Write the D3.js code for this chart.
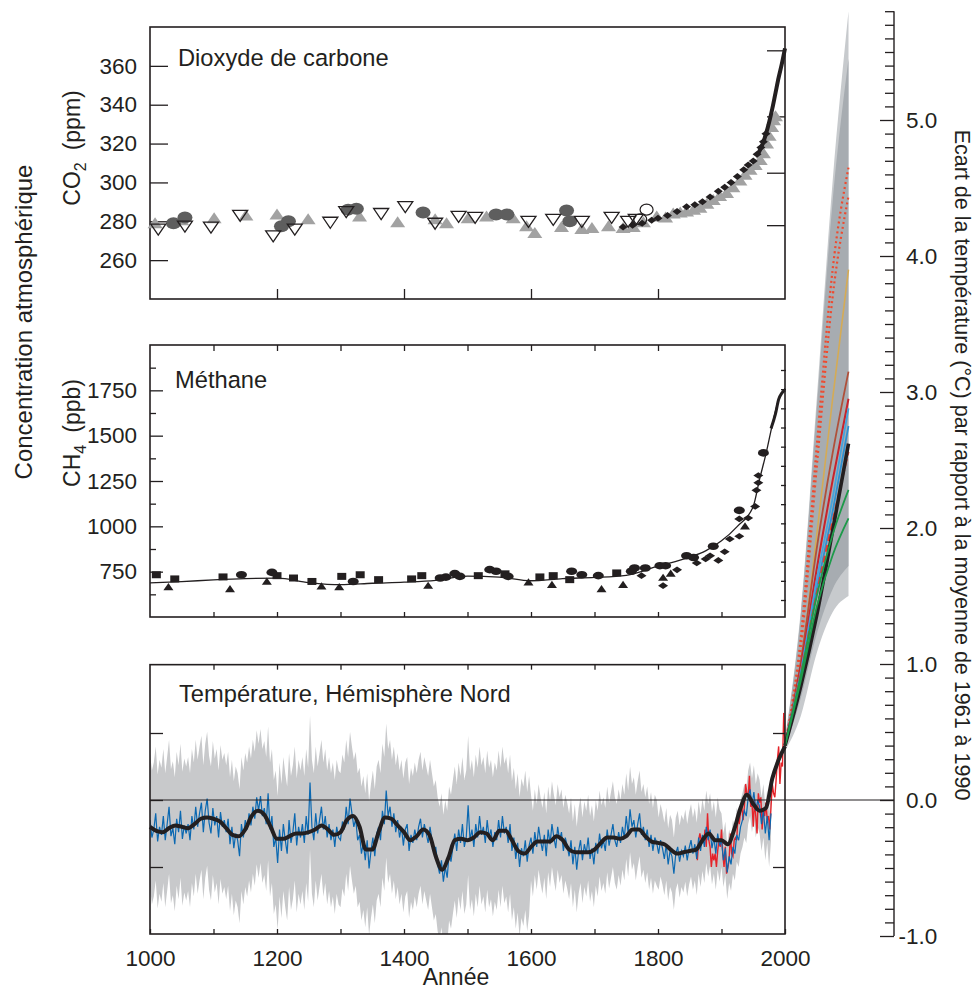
<!DOCTYPE html>
<html>
<head>
<meta charset="utf-8">
<script src="https://cdn.jsdelivr.net/npm/d3@7"></script>
<style>
  body { margin: 0; background: #fff; }
  svg text { font-family: "Liberation Sans", Arial, Helvetica, sans-serif; fill: #231f20; }
</style>
</head>
<body>
<svg id="chart" width="978" height="989"></svg>
<script>
// ---------- CO2 (ppm) ----------
const co2LawDome = [[1037,279],[1055,282],[1207,277.5],[1218,280],[1312,286],[1325,286.5],[1430,284.5],
  [1545,283.5],[1562,283.5],[1656,285.5],[1661,280]];
const co2Siple = [[1008,279],[1050,280.5],[1101,281.5],[1151,283],[1200,283.5],[1249,281],[1330,282.5],
  [1390,279.5],[1449,281],[1467,279],[1501,281.5],[1530,282.5],[1572,281.5],[1593,277.5],[1606,274],
  [1648,277],[1680,276],[1696,276.5],[1722,277.5],[1745,276.5],[1761,277],[1777,279.5],[1798,282.5],
  [1812,282],[1824,284],[1835,284.5],[1845,285],[1856,286],[1866,287],[1877,289],[1887,291],[1897,293],
  [1908,294.5],[1918,297.5],[1929,301],[1937,304],[1945,306.5],[1953,309],[1961,311.5],[1966,315],
  [1971,320],[1975,324],[1979,328.5],[1982,332],[1985,334]];
const co2Taylor = [[1013,276],[1055,277.5],[1096,277],[1142,283],[1194,272.5],[1228,276],[1284,279.5],
  [1309,285],[1364,284],[1402,287.5],[1449,279],[1486,282.5],[1512,282],[1596,280],[1635,281],
  [1680,280],[1727,282],[1753,280],[1765,281]];
const co2Firn = [[1745,277],[1760,278],[1775,279],[1790,280.5],[1800,281.5],[1815,283],[1830,285],
  [1845,287.5],[1858,288.5],[1870,290],[1882,292.5],[1895,295.5],[1905,297.5],[1915,300],[1925,303],
  [1935,306.5],[1942,309],[1950,311],[1956,314.5],[1962,318],[1966,321],[1970,325]];
const co2Circles = [[1782,286],[1772,281]];
const co2MaunaYears = [1958, 1965, 1970, 1975, 1980, 1985, 1990, 1995, 2000];
const co2MaunaVals  = [315, 320, 325, 331, 338, 346, 354, 361, 369];
const co2Ticks = [260, 280, 300, 320, 340, 360];
const co2RightTicks = [278, 305, 334, 368];

// ---------- CH4 (ppb) ----------
const ch4Squares = [[1010,733],[1039,710],[1115,721],[1200,728],[1226,715],[1255,696],[1302,724],[1331,733],
  [1360,706],[1412,710],[1428,728],[1517,728],[1559,738],[1614,721],[1635,728],[1661,706],[1735,743]];
const ch4Circles = [[1144,733],[1192,746],[1320,696],[1457,715],[1466,720],[1480,739],[1488,724],[1535,761],
  [1545,752],[1564,724],[1664,752],[1680,733],[1706,728],[1758,752],[1763,770],[1780,770],[1803,783],
  [1812,783],[1845,838],[1856,828],[1887,890],[1928,1088],[1966,1405]];
const ch4Triangles = [[1029,665],[1126,654],[1184,696],[1270,669],[1298,665],[1438,673],[1596,691],
  [1633,678],[1711,654],[1745,678],[1808,717],[1820,740],[1937,1000]];
const ch4Diamonds = [[1774,728],[1808,673],[1830,760],[1861,798],[1875,820],[1882,838],[1895,812],
  [1905,860],[1913,930],[1928,945],[1928,1041],[1942,1046],[1953,1110],[1955,1199],[1958,1240],[1958,1280]];
const ch4LineYears = [1000,1050,1100,1150,1200,1250,1300,1350,1400,1450,1500,1550,1600,1650,1700,1750,
  1800,1850,1875,1900,1925,1950,1960,1970,1980,1990,2000];
const ch4LineVals = [688,695,705,712,714,690,678,686,692,702,725,720,700,712,718,730,
  780,830,865,920,1000,1110,1260,1400,1560,1700,1760];
const ch4RecentYears = [1978, 1985, 1990, 1995, 2000];
const ch4RecentVals = [1540, 1620, 1700, 1735, 1752];
const ch4Ticks = [750, 1000, 1250, 1500, 1750];
const ch4MinorTicks = [625, 875, 1125, 1375, 1625, 1875];

// ---------- Northern Hemisphere temperature (°C, vs 1961-1990) ----------
const reconStart = 1000, reconStep = 3;
const reconVals = [
  -0.15,-0.28,-0.22,-0.10,-0.31,-0.20,-0.26,-0.12,-0.30,-0.18,-0.05,-0.27,-0.21,-0.33,-0.14,-0.24,-0.08,-0.29,-0.19,-0.25,
  -0.18,-0.30,-0.12,-0.22,-0.05,-0.20,-0.10,-0.02,-0.24,-0.08,0.01,-0.17,-0.25,-0.06,-0.19,-0.12,-0.28,-0.09,-0.20,-0.15,
  -0.24,-0.14,-0.33,-0.20,-0.36,-0.25,-0.30,-0.42,-0.18,-0.28,-0.15,-0.22,-0.10,-0.19,-0.05,-0.14,0.02,-0.08,0.03,-0.12,
  -0.06,-0.18,0.05,-0.22,-0.12,-0.35,-0.28,-0.47,-0.22,-0.38,-0.18,-0.30,-0.40,-0.15,-0.32,-0.24,-0.10,-0.34,-0.20,-0.28,
  -0.18,-0.32,-0.12,-0.26,0.13,-0.20,-0.30,-0.10,-0.25,-0.15,-0.05,-0.22,-0.12,-0.28,-0.18,-0.30,-0.22,-0.35,-0.20,-0.28,
  -0.30,-0.16,-0.22,-0.05,-0.18,0.01,-0.10,-0.20,-0.14,-0.30,-0.26,-0.40,-0.32,-0.45,-0.30,-0.51,-0.38,-0.28,-0.42,-0.25,
  -0.20,-0.30,-0.08,-0.18,0.07,-0.12,-0.05,-0.20,-0.10,-0.24,-0.15,-0.28,-0.20,-0.34,-0.22,-0.18,-0.38,-0.26,-0.32,-0.22,
  -0.30,-0.20,-0.14,-0.28,-0.18,-0.25,-0.32,-0.20,-0.30,-0.40,-0.35,-0.48,-0.55,-0.45,-0.61,-0.50,-0.58,-0.40,-0.46,-0.35,
  -0.25,-0.38,-0.22,-0.32,-0.18,-0.35,-0.28,-0.04,-0.30,-0.22,-0.35,-0.18,-0.28,-0.12,-0.26,-0.20,-0.32,-0.15,-0.28,-0.22,
  -0.35,-0.24,-0.30,-0.15,-0.28,-0.12,-0.25,-0.20,-0.32,-0.18,-0.38,-0.28,-0.44,-0.32,-0.50,-0.36,-0.42,-0.30,-0.46,-0.34,
  -0.28,-0.40,-0.24,-0.35,-0.20,-0.30,-0.38,-0.26,-0.42,-0.22,-0.33,-0.18,-0.28,-0.36,-0.20,-0.30,-0.24,-0.38,-0.28,-0.34,
  -0.42,-0.30,-0.48,-0.35,-0.52,-0.38,-0.30,-0.45,-0.33,-0.40,-0.28,-0.44,-0.36,-0.48,-0.32,-0.40,-0.25,-0.36,-0.30,-0.38,
  -0.22,-0.34,-0.26,-0.18,-0.30,-0.35,-0.24,-0.32,-0.20,-0.28,-0.12,-0.25,-0.07,-0.20,-0.15,-0.28,-0.18,-0.10,-0.26,-0.20,
  -0.30,-0.22,-0.35,-0.26,-0.38,-0.28,-0.32,-0.40,-0.30,-0.36,-0.44,-0.33,-0.48,-0.38,-0.42,-0.55,-0.40,-0.35,-0.46,-0.38,
  -0.42,-0.34,-0.45,-0.36,-0.30,-0.40,-0.33,-0.44,-0.28,-0.38,-0.26,-0.35,-0.20,-0.30,-0.22,-0.36,-0.28,-0.40,-0.25,-0.34,
  -0.30,-0.45,-0.36,-0.54,-0.42,-0.48,-0.35,-0.40,-0.26,-0.30,-0.20,-0.15,-0.08,-0.12,0.02,0.08,-0.04,0.06,-0.08,0.00,
  -0.05,-0.18,-0.08,-0.25,-0.12,-0.30,-0.10
];
// half-width of the uncertainty band, per century 1000s..1900s
const bandHalfWidth = [0.50, 0.50, 0.50, 0.50, 0.50, 0.52, 0.32, 0.32, 0.27, 0.20];

const smoothYears = d3.range(1000, 2001, 10);
const smoothVals = [
  -0.20,-0.23,-0.24,-0.21,-0.19,-0.20,-0.21,-0.18,-0.14,-0.13,
  -0.14,-0.16,-0.21,-0.26,-0.27,-0.22,-0.12,-0.08,-0.11,-0.20,
  -0.29,-0.29,-0.27,-0.25,-0.25,-0.24,-0.22,-0.19,-0.22,-0.26,
  -0.24,-0.15,-0.12,-0.20,-0.37,-0.37,-0.24,-0.13,-0.14,-0.19,
  -0.24,-0.30,-0.27,-0.22,-0.26,-0.42,-0.52,-0.43,-0.30,-0.29,
  -0.30,-0.28,-0.24,-0.25,-0.30,-0.23,-0.23,-0.30,-0.38,-0.40,
  -0.35,-0.31,-0.31,-0.31,-0.27,-0.30,-0.37,-0.39,-0.39,-0.39,
  -0.37,-0.32,-0.28,-0.28,-0.29,-0.27,-0.22,-0.22,-0.27,-0.31,
  -0.32,-0.33,-0.37,-0.40,-0.39,-0.38,-0.37,-0.30,-0.25,-0.30,
  -0.30,-0.33,-0.22,-0.06,0.04,-0.03,-0.08,-0.06,0.16,0.30,
  0.40
];

const instYears = d3.range(1860, 2001, 2);
const instVals = [
  -0.35,-0.45,-0.30,-0.25,-0.30, -0.28,-0.32,-0.22,-0.35,-0.10,
  -0.30,-0.35,-0.50,-0.40,-0.45, -0.40,-0.50,-0.38,-0.30,-0.35,
  -0.22,-0.40,-0.50,-0.35,-0.55, -0.50,-0.45,-0.25,-0.40,-0.42,
  -0.30,-0.28,-0.30,-0.10,-0.18, -0.08,-0.05,-0.15,-0.05,0.12,
  0.05,0.02,0.18,-0.05,-0.02, -0.20,0.00,-0.12,-0.25,0.05,
  -0.02,0.02,-0.22,-0.08,-0.12, -0.02,-0.15,-0.12,-0.22,-0.05,
  0.12,0.05,0.02,0.15,0.30, 0.40,0.12,0.28,0.25,0.65,
  0.42
];

// ---------- Projections 2000-2100 ----------
const projYears = [2000, 2025, 2050, 2075, 2100];
const envOuterLow  = [0.36, 0.62, 1.08, 1.38, 1.50];
const envOuterHigh = [0.45, 1.40, 2.95, 4.55, 5.80];
const envInnerLow  = [0.38, 0.75, 1.22, 1.55, 1.72];
const envInnerHigh = [0.44, 1.37, 2.88, 4.40, 5.45];
const scenarios = [
  { name: "A1FI-a", color: "#ee4a2f", width: 2.2, dash: "2,3", vals: [0.40, 1.20, 2.60, 3.90, 4.65] },
  { name: "A1FI-b", color: "#ee4a2f", width: 2.2, dash: "2,3", vals: [0.40, 1.12, 2.45, 3.70, 4.44] },
  { name: "A2",     color: "#d5ab55", width: 1.6, dash: null,  vals: [0.40, 1.00, 1.95, 2.95, 3.90] },
  { name: "A1B",    color: "#b0503a", width: 1.8, dash: null,  vals: [0.40, 1.02, 1.85, 2.55, 3.15] },
  { name: "A1T",    color: "#c8232c", width: 2.0, dash: null,  vals: [0.40, 0.98, 1.70, 2.35, 2.95] },
  { name: "B2",     color: "#46a3dc", width: 1.8, dash: null,  vals: [0.40, 0.95, 1.62, 2.22, 2.88] },
  { name: "IS92a",  color: "#2f8fd0", width: 1.8, dash: null,  vals: [0.40, 0.93, 1.55, 2.12, 2.75] },
  { name: "A2-b",   color: "#e8392b", width: 2.0, dash: "7,4", vals: [0.40, 0.93, 1.52, 2.05, 2.56] },
  { name: "mean",   color: "#231f20", width: 3.6, dash: null,  vals: [0.40, 0.84, 1.36, 1.98, 2.62] },
  { name: "B1-a",   color: "#1d9a4a", width: 1.8, dash: null,  vals: [0.40, 0.92, 1.50, 1.95, 2.28] },
  { name: "B1-b",   color: "#1d9a4a", width: 1.8, dash: null,  vals: [0.40, 0.88, 1.42, 1.80, 2.07] }
];
const tempTickLabels = [-1, 0, 1, 2, 3, 4, 5];

// ---------- drawing ----------
const ink = "#231f20";
const svg = d3.select("#chart");

const x = d3.scaleLinear().domain([1000, 2000]).range([150, 785]);
const co2Y = d3.scaleLinear().domain([240, 380]).range([299, 27]);
const ch4Y = d3.scaleLinear().domain([500, 2000]).range([617, 345]);
const tY = d3.scaleLinear().domain([-1, 1]).range([934, 666]);
const tR = d3.scaleLinear().domain([0, 5]).range([800, 120]);   // right-hand temperature axis
const ch4R = d3.scaleLinear().domain([0, 12]).range([600, 370]);

function styleAxis(g) {
  g.attr("font-family", null).attr("font-size", null);
  g.select(".domain").remove();
  g.selectAll("line").attr("stroke", ink).attr("stroke-width", 1.3);
  g.selectAll("text").attr("fill", ink).style("font-size", "22.5px");
}

function box(top, bottom) {
  svg.append("rect").attr("x", 150).attr("y", top).attr("width", 635).attr("height", bottom - top)
    .attr("fill", "none").attr("stroke", ink).attr("stroke-width", 1.6);
}

// ===== temperature panel =====
const tTop = tY(1.01), tBot = tY(-1);
svg.append("clipPath").attr("id", "tclip").append("rect")
  .attr("x", 150).attr("y", tTop).attr("width", 635).attr("height", tBot - tTop);

const recon = reconVals.map((v, i) => ({ year: reconStart + i * reconStep, v }));
const hw = d => bandHalfWidth[Math.min(9, Math.floor((d.year - 1000) / 100))];
const gT = svg.append("g").attr("clip-path", "url(#tclip)");
gT.append("path").datum(recon)
  .attr("fill", "#c8c9cb")
  .attr("d", d3.area().x(d => x(d.year)).y0(d => tY(d.v - hw(d))).y1(d => tY(d.v + hw(d))));

// zero line across to the right axis
svg.append("line").attr("x1", 150).attr("x2", 894).attr("y1", tY(0)).attr("y2", tY(0))
  .attr("stroke", ink).attr("stroke-width", 1.2);

gT.append("path").datum(instVals.map((v, i) => [instYears[i], v]))
  .attr("fill", "none").attr("stroke", "#e52329").attr("stroke-width", 1.4)
  .attr("d", d3.line().x(d => x(d[0])).y(d => tY(d[1])));
gT.append("path").datum(recon)
  .attr("fill", "none").attr("stroke", "#0b68b1").attr("stroke-width", 1.2)
  .attr("d", d3.line().x(d => x(d.year)).y(d => tY(d.v)));

// ===== projection fan =====
const fanArea = (lo, hi) => d3.area().curve(d3.curveMonotoneX)
  .x((d, i) => x(projYears[i])).y0((d, i) => tR(lo[i])).y1((d, i) => tR(hi[i]));
svg.append("path").datum(projYears).attr("fill", "#c7cacd").attr("d", fanArea(envOuterLow, envOuterHigh));
svg.append("path").datum(projYears).attr("fill", "#a7acb1").attr("d", fanArea(envInnerLow, envInnerHigh));
scenarios.forEach(s => {
  svg.append("path").datum(s.vals)
    .attr("fill", "none").attr("stroke", s.color).attr("stroke-width", s.width)
    .attr("stroke-dasharray", s.dash)
    .attr("d", d3.line().curve(d3.curveMonotoneX).x((d, i) => x(projYears[i])).y(d => tR(d)));
});

// smoothed reconstruction on top
svg.append("path").datum(smoothVals.map((v, i) => [smoothYears[i], v]))
  .attr("fill", "none").attr("stroke", ink).attr("stroke-width", 4).attr("stroke-linejoin", "round")
  .attr("d", d3.line().curve(d3.curveMonotoneX).x(d => x(d[0])).y(d => tY(d[1])));

box(tTop, tBot);

svg.append("g").attr("transform", "translate(150,0)")
  .call(d3.axisLeft(tY).tickValues([-0.5, 0, 0.5]).tickSize(-13).tickFormat("")).call(styleAxis);
svg.append("g").attr("transform", "translate(785,0)")
  .call(d3.axisRight(tY).tickValues([-0.5, 0.5]).tickSize(-12).tickFormat("")).call(styleAxis);
svg.append("g").attr("transform", `translate(0,${tTop})`)
  .call(d3.axisTop(x).tickValues(d3.range(1100, 2000, 100)).tickSize(-5).tickFormat("")).call(styleAxis);
svg.append("g").attr("transform", `translate(0,${tBot})`)
  .call(d3.axisBottom(x).tickValues(d3.range(1000, 2001, 100)).tickSize(-5).tickPadding(16)
    .tickFormat(d => d % 200 === 0 ? d : "")).call(styleAxis);

// right temperature axis
const gR = svg.append("g").attr("transform", "translate(894,0)")
  .call(d3.axisRight(tR).tickValues(d3.range(-10, 59).map(i => i / 10)).tickSize(-9).tickPadding(12)
    .tickFormat(d => tempTickLabels.includes(Math.round(d * 10) / 10) ? d.toFixed(1) : ""));
gR.attr("font-family", null).attr("font-size", null);
gR.select(".domain").attr("d", `M0,${tR(5.8)}V${tR(-1)}`).attr("stroke", ink).attr("stroke-width", 1.4).attr("fill", "none");
gR.selectAll(".tick line").attr("stroke", ink).attr("stroke-width", 1.3)
  .attr("x2", d => Number.isInteger(Math.round(d * 10) / 10) ? -14 : -9);
gR.selectAll(".tick text").attr("fill", ink).style("font-size", "22.5px")
  .attr("x", d => d < 0 ? 4.5 : 12);

// ===== CO2 panel =====
box(27, 299);
svg.append("g").attr("transform", "translate(150,0)")
  .call(d3.axisLeft(co2Y).tickValues(co2Ticks).tickSize(-18).tickPadding(13)).call(styleAxis);
svg.append("g").attr("transform", "translate(785,0)")
  .call(d3.axisRight(co2Y).tickValues(co2RightTicks).tickSize(-18).tickFormat("")).call(styleAxis);
svg.append("g").attr("transform", "translate(0,299)")
  .call(d3.axisBottom(x).tickValues([1200, 1400, 1600, 1800]).tickSize(-10).tickFormat("")).call(styleAxis);

const upTri = "M0,-6L7.5,5L-7.5,5Z";
const downTri = "M0,6L7.5,-5L-7.5,-5Z";
const diamond = "M-4.5,0L0,-3.5L4.5,0L0,3.5Z";

function marks(data, sy, d, fill, stroke, sw) {
  svg.append("g").selectAll("path").data(data).join("path")
    .attr("transform", p => `translate(${x(p[0])},${sy(p[1])})`)
    .attr("d", d).attr("fill", fill).attr("stroke", stroke || "none").attr("stroke-width", sw || 0);
}
function ellipses(data, sy, rx, ry, fill, stroke, sw) {
  svg.append("g").selectAll("ellipse").data(data).join("ellipse")
    .attr("cx", p => x(p[0])).attr("cy", p => sy(p[1])).attr("rx", rx).attr("ry", ry)
    .attr("fill", fill).attr("stroke", stroke || "none").attr("stroke-width", sw || 0);
}

marks(co2Siple, co2Y, upTri, "#a2a2a2");
ellipses(co2LawDome, co2Y, 7.5, 6, "#5e5e5e");
marks(co2Taylor, co2Y, downTri, "none", ink, 1.3);
marks(co2Firn, co2Y, diamond, ink);
ellipses(co2Circles, co2Y, 6.5, 5.5, "none", ink, 1.2);
svg.append("path").datum(co2MaunaVals.map((v, i) => [co2MaunaYears[i], v]))
  .attr("fill", "none").attr("stroke", ink).attr("stroke-width", 4)
  .attr("d", d3.line().curve(d3.curveMonotoneX).x(d => x(d[0])).y(d => co2Y(d[1])));

// ===== CH4 panel =====
box(345, 617);
svg.append("g").attr("transform", "translate(150,0)")
  .call(d3.axisLeft(ch4Y).tickValues(ch4Ticks).tickSize(-13).tickPadding(13).tickFormat(d3.format("d"))).call(styleAxis);
svg.append("g").attr("transform", "translate(150,0)")
  .call(d3.axisLeft(ch4Y).tickValues(ch4MinorTicks).tickSize(-6).tickFormat("")).call(styleAxis);
svg.append("g").attr("transform", "translate(786,0)")
  .call(d3.axisRight(ch4R).tickValues(d3.range(0, 13)).tickSize(-5).tickFormat("")).call(styleAxis);
svg.append("g").attr("transform", "translate(0,345)")
  .call(d3.axisTop(x).tickValues(d3.range(1100, 2000, 100)).tickSize(-6).tickFormat("")).call(styleAxis);
svg.append("g").attr("transform", "translate(0,617)")
  .call(d3.axisBottom(x).tickValues(d3.range(1100, 2000, 100)).tickSize(-5).tickFormat("")).call(styleAxis);

svg.append("path").datum(ch4LineVals.map((v, i) => [ch4LineYears[i], v]))
  .attr("fill", "none").attr("stroke", ink).attr("stroke-width", 1.3)
  .attr("d", d3.line().curve(d3.curveMonotoneX).x(d => x(d[0])).y(d => ch4Y(d[1])));
svg.append("path").datum(ch4RecentVals.map((v, i) => [ch4RecentYears[i], v]))
  .attr("fill", "none").attr("stroke", ink).attr("stroke-width", 3)
  .attr("d", d3.line().curve(d3.curveMonotoneX).x(d => x(d[0])).y(d => ch4Y(d[1])));
marks(ch4Squares, ch4Y, "M-4.5,-3.5h9v7h-9Z", ink);
ellipses(ch4Circles, ch4Y, 5.5, 3.8, ink);
marks(ch4Triangles, ch4Y, "M0,-4L5,3.2L-5,3.2Z", ink);
marks(ch4Diamonds, ch4Y, "M-5,0L0,-3.3L5,0L0,3.3Z", ink);

// ===== texts =====
const title = (tx, ty, s) => svg.append("text").attr("x", tx).attr("y", ty).style("font-size", "23.7px").text(s);
title(178, 66, "Dioxyde de carbone");
title(175, 388, "Méthane");
title(179, 702, "Température, Hémisphère Nord");

function gasLabel(cy, base, sub, unit) {
  const t = svg.append("text").attr("transform", `translate(80,${cy}) rotate(-90)`)
    .attr("text-anchor", "middle").style("font-size", "23px");
  t.append("tspan").text(base);
  t.append("tspan").attr("dy", 6).style("font-size", "16px").text(sub);
  t.append("tspan").attr("dy", -6).attr("dx", 12).text(unit);
}
gasLabel(148, "CO", "2", "(ppm)");
gasLabel(433, "CH", "4", "(ppb)");

svg.append("text").attr("transform", "translate(32,322) rotate(-90)").attr("text-anchor", "middle")
  .style("font-size", "24px").text("Concentration atmosphérique");
svg.append("text").attr("transform", "translate(955,465) rotate(90)").attr("text-anchor", "middle")
  .style("font-size", "21.5px").text("Ecart de la température (°C) par rapport à la moyenne de 1961 à 1990");
svg.append("text").attr("x", 456).attr("y", 985).attr("text-anchor", "middle")
  .style("font-size", "23px").text("Année");
</script>
</body>
</html>
